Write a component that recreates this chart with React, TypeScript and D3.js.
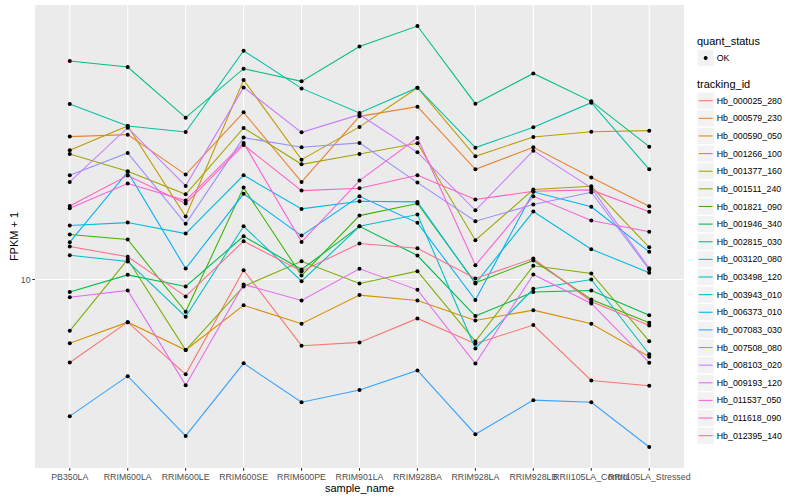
import React from "react";
import * as d3 from "d3";

// samples on the x axis
const sampleNames = [
  "PB350LA",
  "RRIM600LA",
  "RRIM600LE",
  "RRIM600SE",
  "RRIM600PE",
  "RRIM901LA",
  "RRIM928BA",
  "RRIM928LA",
  "RRIM928LB",
  "RRII105LA_Control",
  "RRII105LA_Stressed",
];

const trackingIds = [
  "Hb_000025_280",
  "Hb_000579_230",
  "Hb_000590_050",
  "Hb_001266_100",
  "Hb_001377_160",
  "Hb_001511_240",
  "Hb_001821_090",
  "Hb_001946_340",
  "Hb_002815_030",
  "Hb_003120_080",
  "Hb_003498_120",
  "Hb_003943_010",
  "Hb_006373_010",
  "Hb_007083_030",
  "Hb_007508_080",
  "Hb_008103_020",
  "Hb_009193_120",
  "Hb_011537_050",
  "Hb_011618_090",
  "Hb_012395_140",
];

// FPKM + 1, one value per sample (same order as sampleNames)
const hb000025 = [6.2, 7.82, 5.79, 10.55, 6.83, 6.96, 7.99, 6.91, 7.69, 5.59, 5.42];
const hb000579 = [22.78, 23.04, 18.3, 26.2, 17.55, 25.6, 27.07, 18.87, 21.42, 17.99, 15.25];
const hb000590 = [6.93, 7.82, 6.66, 8.62, 7.75, 9.14, 8.86, 7.9, 8.38, 7.75, 6.41];
const hb001266 = [21.05, 24.22, 14.37, 31.57, 19.95, 24.09, 30.2, 20.34, 22.74, 23.44, 23.58];
const hb001377 = [20.62, 18.65, 16.34, 23.95, 19.42, 20.62, 21.92, 12.54, 16.79, 17.11, 12.04];
const hb001511 = [7.44, 11.22, 6.66, 9.61, 11.11, 9.77, 10.49, 7.0, 10.82, 10.35, 7.01];
const hb001821 = [12.96, 12.59, 8.3, 16.98, 10.23, 14.45, 15.49, 9.81, 11.16, 8.91, 7.79];
const hb001946 = [9.3, 10.27, 9.61, 12.83, 10.59, 13.59, 11.48, 8.1, 9.3, 9.39, 8.14];
const hb002815 = [35.22, 34.02, 25.41, 33.69, 31.32, 38.3, 43.08, 27.54, 32.79, 27.91, 21.5];
const hb003120 = [27.5, 24.22, 23.4, 37.37, 30.08, 26.11, 30.2, 21.38, 24.03, 27.7, 18.87];
const hb003498 = [11.5, 11.09, 8.07, 13.59, 9.9, 13.59, 14.54, 6.72, 9.48, 10.0, 6.5];
const hb003943 = [13.65, 13.88, 13.03, 18.23, 15.02, 15.69, 15.64, 9.77, 14.79, 11.91, 10.39];
const hb006373 = [12.4, 18.59, 10.65, 16.38, 12.88, 16.15, 13.86, 8.88, 16.57, 15.2, 11.73];
const hb007083 = [4.55, 5.73, 4.06, 6.17, 4.93, 5.29, 5.92, 4.1, 4.99, 4.93, 3.81];
const hb007508 = [18.23, 20.74, 13.78, 22.65, 21.42, 21.97, 17.48, 13.99, 15.4, 16.53, 10.59];
const hb008103 = [17.55, 23.99, 17.15, 30.25, 23.35, 25.85, 20.81, 14.9, 21.01, 16.95, 10.67];
const hb009193 = [9.03, 9.39, 5.44, 9.72, 8.86, 10.64, 9.42, 6.16, 10.29, 8.71, 6.19];
const hb011537 = [15.07, 17.38, 15.76, 21.97, 12.42, 17.68, 22.61, 10.86, 16.15, 14.04, 13.16];
const hb011618 = [15.28, 18.2, 15.49, 21.71, 16.69, 16.91, 18.23, 15.85, 16.62, 16.76, 14.77];
const hb012395 = [12.09, 11.4, 9.07, 12.47, 10.49, 12.3, 11.97, 10.06, 11.28, 8.81, 7.67];

const seriesValues = [
  hb000025, hb000579, hb000590, hb001266, hb001377, hb001511, hb001821,
  hb001946, hb002815, hb003120, hb003498, hb003943, hb006373, hb007083,
  hb007508, hb008103, hb009193, hb011537, hb011618, hb012395,
];

// ggplot2 default hue palette for 20 levels
const palette = [
  "#F8766D", "#EA8331", "#D89000", "#C09B00", "#A3A500",
  "#7CAE00", "#39B600", "#00BB4E", "#00BF7D", "#00C1A3",
  "#00BFC4", "#00BAE0", "#00B0F6", "#35A2FF", "#9590FF",
  "#C77CFF", "#E76BF3", "#FA62DB", "#FF62BC", "#FF6C91",
];

const W = 800;
const H = 500;
const panel = { left: 35, right: 684, top: 5, bottom: 468 };
const font = "'Liberation Sans', Arial, Helvetica, sans-serif";

export default function App() {
  const x = d3
    .scalePoint<string>()
    .domain(sampleNames)
    .range([panel.left, panel.right])
    .padding(0.6);

  const all = seriesValues.flat();
  const [lo, hi] = d3.extent(all) as [number, number];
  const pad = Math.pow(hi / lo, 0.05);
  const y = d3
    .scaleLog()
    .domain([lo / pad, hi * pad])
    .range([panel.bottom, panel.top]);

  const yTicks = y.ticks().filter((t) => t === 10);

  const line = d3
    .line<number>()
    .x((_, i) => x(sampleNames[i]) as number)
    .y((v) => y(v));

  const legendX = 697;
  const keySize = 17.28;
  const firstKey = 100.7;
  const keyStep = 17.63;

  return (
    <div style={{ position: "absolute", left: 0, top: 0 }}>
      <svg width={W} height={H} style={{ display: "block", fontFamily: font }}>
        <rect x={0} y={0} width={W} height={H} fill="white" />
        <rect
          x={panel.left}
          y={panel.top}
          width={panel.right - panel.left}
          height={panel.bottom - panel.top}
          fill="#EBEBEB"
        />
        {yTicks.map((t) => (
          <line
            key={"gy" + t}
            x1={panel.left}
            x2={panel.right}
            y1={y(t)}
            y2={y(t)}
            stroke="white"
            strokeWidth={1.07}
          />
        ))}
        {sampleNames.map((s) => (
          <line
            key={"gx" + s}
            x1={x(s)}
            x2={x(s)}
            y1={panel.top}
            y2={panel.bottom}
            stroke="white"
            strokeWidth={1.07}
          />
        ))}

        {seriesValues.map((vals, i) => (
          <path
            key={"l" + i}
            d={line(vals) || ""}
            fill="none"
            stroke={palette[i]}
            strokeWidth={1.07}
          />
        ))}
        {seriesValues.map((vals, i) =>
          vals.map((v, j) => (
            <circle
              key={"p" + i + "-" + j}
              cx={x(sampleNames[j])}
              cy={y(v)}
              r={2}
              fill="black"
            />
          ))
        )}

        {/* y axis */}
        {yTicks.map((t) => (
          <g key={"ty" + t}>
            <line
              x1={panel.left - 2.74}
              x2={panel.left}
              y1={y(t)}
              y2={y(t)}
              stroke="#333333"
              strokeWidth={1.07}
            />
            <text
              x={panel.left - 4.4}
              y={y(t)}
              dy="0.35em"
              textAnchor="end"
              fontSize={8.8}
              fill="#4D4D4D"
            >
              {t}
            </text>
          </g>
        ))}
        <text
          transform={`translate(14,${(panel.top + panel.bottom) / 2}) rotate(-90)`}
          textAnchor="middle"
          dy="0.35em"
          fontSize={11}
          fill="black"
        >
          FPKM + 1
        </text>

        {/* x axis */}
        {sampleNames.map((s) => (
          <g key={"tx" + s}>
            <line
              x1={x(s)}
              x2={x(s)}
              y1={panel.bottom}
              y2={panel.bottom + 2.74}
              stroke="#333333"
              strokeWidth={1.07}
            />
            <text
              x={x(s)}
              y={panel.bottom + 9}
              dy="0.35em"
              textAnchor="middle"
              fontSize={8.8}
              fill="#4D4D4D"
            >
              {s}
            </text>
          </g>
        ))}
        <text
          x={(panel.left + panel.right) / 2}
          y={488}
          dy="0.35em"
          textAnchor="middle"
          fontSize={11}
          fill="black"
        >
          sample_name
        </text>

        {/* legend: quant_status */}
        <text x={legendX} y={40.7} dy="0.35em" fontSize={11} fill="black">
          quant_status
        </text>
        <rect
          x={legendX}
          y={58 - keySize / 2}
          width={keySize}
          height={keySize}
          fill="#F2F2F2"
          stroke="white"
        />
        <circle cx={legendX + keySize / 2} cy={58} r={2} fill="black" />
        <text x={legendX + keySize + 2.5} y={58} dy="0.35em" fontSize={8.8} fill="black">
          OK
        </text>

        {/* legend: tracking_id */}
        <text x={legendX} y={84} dy="0.35em" fontSize={11} fill="black">
          tracking_id
        </text>
        {trackingIds.map((id, i) => {
          const cy = firstKey + i * keyStep;
          return (
            <g key={"lg" + id}>
              <rect
                x={legendX}
                y={cy - keySize / 2}
                width={keySize}
                height={keySize}
                fill="#F2F2F2"
                stroke="white"
              />
              <line
                x1={legendX + 1.7}
                x2={legendX + keySize - 1.7}
                y1={cy}
                y2={cy}
                stroke={palette[i]}
                strokeWidth={1.07}
              />
              <text
                x={legendX + keySize + 2.5}
                y={cy}
                dy="0.35em"
                fontSize={8.8}
                fill="black"
              >
                {id}
              </text>
            </g>
          );
        })}
      </svg>
    </div>
  );
}
